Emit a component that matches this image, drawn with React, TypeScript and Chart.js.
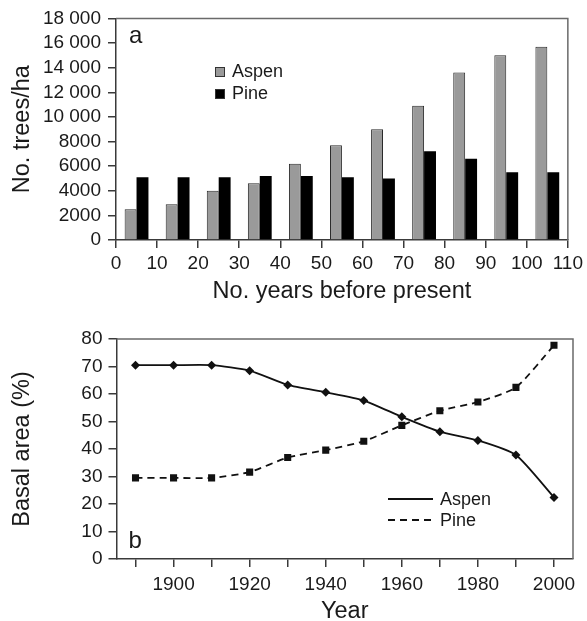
import React, { useEffect, useRef } from 'react';
import { Chart, registerables } from 'chart.js';

Chart.register(...registerables);

// ---- Panel a data ----
const yearsBeforePresent = [5, 15, 25, 35, 45, 55, 65, 75, 85, 95, 105];
const aspenTrees = [2500, 2900, 4000, 4600, 6200, 7700, 9000, 10900, 13600, 15000, 15700];
const pineTrees = [5100, 5100, 5100, 5200, 5200, 5100, 5000, 7200, 6600, 5500, 5500];
const xTicksA = [0, 10, 20, 30, 40, 50, 60, 70, 80, 90, 100, 110];
const yTicksA = [0, 2000, 4000, 6000, 8000, 10000, 12000, 14000, 16000, 18000];

// ---- Panel b data ----
const years = [1890, 1900, 1910, 1920, 1930, 1940, 1950, 1960, 1970, 1980, 1990, 2000];
const aspenBasal = [70.5, 70.5, 70.5, 68.5, 63.3, 60.6, 57.6, 51.7, 46.3, 43.1, 37.8, 22.4];
const pineBasal = [29.5, 29.5, 29.5, 31.6, 36.9, 39.6, 42.8, 48.6, 53.9, 57.1, 62.4, 77.7];
const xTicksB = [1890, 1900, 1910, 1920, 1930, 1940, 1950, 1960, 1970, 1980, 1990, 2000];
const xLabelsB = [1900, 1920, 1940, 1960, 1980, 2000];
const yTicksB = [0, 10, 20, 30, 40, 50, 60, 70, 80];

const FONT = "'Liberation Sans', Arial, Helvetica, sans-serif";
const TEXT = '#1a1a1a';
const AXIS = '#3a3a3a';
const TICK_SIZE = 19;

const framePlugin = {
  id: 'frame',
  afterDraw(chart: any) {
    const { ctx, chartArea } = chart;
    const { left, top, right, bottom } = chartArea;
    ctx.save();
    ctx.strokeStyle = '#6a6a6a';
    ctx.lineWidth = 1.5;
    ctx.beginPath();
    ctx.moveTo(left, top);
    ctx.lineTo(right, top);
    ctx.lineTo(right, bottom);
    ctx.stroke();
    ctx.restore();
  },
};

const panelLabelPlugin = {
  id: 'panelLabel',
  afterDraw(chart: any, _args: any, opts: any) {
    const { ctx, chartArea } = chart;
    ctx.save();
    ctx.fillStyle = TEXT;
    ctx.font = `24px ${FONT}`;
    ctx.textAlign = 'left';
    ctx.textBaseline = 'alphabetic';
    ctx.fillText(opts.text, chartArea.left + opts.dx, chartArea.top + opts.dy);
    ctx.restore();
  },
};

const boxLegendPlugin = {
  id: 'boxLegend',
  afterDraw(chart: any, _args: any, opts: any) {
    if (!opts || !opts.enabled) return;
    const { ctx } = chart;
    ctx.save();
    ctx.font = `18px ${FONT}`;
    ctx.textBaseline = 'alphabetic';
    ctx.textAlign = 'left';
    chart.data.datasets.forEach((ds: any, i: number) => {
      const y = opts.y + i * opts.gap;
      ctx.fillStyle = ds.backgroundColor;
      ctx.fillRect(opts.x, y - 10, 9, 9);
      ctx.strokeStyle = '#333';
      ctx.lineWidth = 1;
      ctx.strokeRect(opts.x + 0.5, y - 9.5, 9, 9);
      ctx.fillStyle = TEXT;
      ctx.fillText(ds.label, opts.x + 17, y);
    });
    ctx.restore();
  },
};

const lineLegendPlugin = {
  id: 'lineLegend',
  afterDraw(chart: any, _args: any, opts: any) {
    if (!opts || !opts.enabled) return;
    const { ctx } = chart;
    ctx.save();
    ctx.font = `18px ${FONT}`;
    ctx.textBaseline = 'alphabetic';
    ctx.textAlign = 'left';
    chart.data.datasets.forEach((ds: any, i: number) => {
      const y = opts.y + i * opts.gap;
      ctx.strokeStyle = ds.borderColor;
      ctx.lineWidth = 1.8;
      ctx.setLineDash(ds.borderDash || []);
      ctx.beginPath();
      ctx.moveTo(opts.x, y - 6);
      ctx.lineTo(opts.x + 45, y - 6);
      ctx.stroke();
      ctx.setLineDash([]);
      ctx.fillStyle = TEXT;
      ctx.fillText(ds.label, opts.x + 52, y);
    });
    ctx.restore();
  },
};

function fmtThousands(v: number): string {
  if (v >= 10000) {
    const th = Math.floor(v / 1000);
    const rest = String(v % 1000).padStart(3, '0');
    return `${th} ${rest}`;
  }
  return String(v);
}

export default function App() {
  const refA = useRef<HTMLCanvasElement>(null);
  const refB = useRef<HTMLCanvasElement>(null);

  useEffect(() => {
    Chart.defaults.font.family = FONT;
    Chart.defaults.color = TEXT;

    const chartA = new Chart(refA.current as HTMLCanvasElement, {
      type: 'bar',
      data: {
        datasets: [
          {
            label: 'Aspen',
            data: yearsBeforePresent.map((x, i) => ({ x, y: aspenTrees[i] })),
            backgroundColor: '#9a9a9a',
            borderColor: '#2a2a2a',
            borderWidth: 1,
            borderSkipped: 'bottom',
          },
          {
            label: 'Pine',
            data: yearsBeforePresent.map((x, i) => ({ x, y: pineTrees[i] })),
            backgroundColor: '#000000',
            borderColor: '#000000',
            borderWidth: 0,
          },
        ],
      },
      options: {
        responsive: false,
        animation: false,
        layout: { padding: { top: 18, right: 15, left: 0, bottom: 0 } },
        datasets: { bar: { barPercentage: 1, categoryPercentage: 0.58 } },
        plugins: {
          legend: { display: false },
          tooltip: { enabled: false },
          panelLabel: { text: 'a', dx: 13, dy: 25 },
          boxLegend: { enabled: true, x: 215, y: 77, gap: 22 },
        } as any,
        scales: {
          x: {
            type: 'linear',
            min: 0,
            max: 110,
            offset: false,
            afterBuildTicks: (scale: any) => {
              scale.ticks = xTicksA.map((v) => ({ value: v }));
            },
            afterFit: (scale: any) => {
              scale.height = 70;
            },
            grid: { display: true, drawOnChartArea: false, drawTicks: true, tickLength: 8, color: AXIS, lineWidth: 1.5, offset: false },
            border: { display: true, color: AXIS, width: 1.5 },
            ticks: { font: { size: TICK_SIZE }, padding: 4, maxRotation: 0, autoSkip: false, color: TEXT },
            title: {
              display: true,
              text: 'No. years before present',
              font: { size: 23.5, lineHeight: 1.2 },
              padding: { top: 0, bottom: 4 },
              color: TEXT,
            },
          },
          y: {
            type: 'linear',
            min: 0,
            max: 18000,
            afterBuildTicks: (scale: any) => {
              scale.ticks = yTicksA.map((v) => ({ value: v }));
            },
            afterFit: (scale: any) => {
              scale.width = 116;
            },
            grid: { display: true, drawOnChartArea: false, drawTicks: true, tickLength: 8, color: AXIS, lineWidth: 1.5 },
            border: { display: true, color: AXIS, width: 1.5 },
            ticks: { font: { size: TICK_SIZE }, padding: 7, color: TEXT, autoSkip: false, callback: (v: any) => fmtThousands(Number(v)) },
            title: {
              display: true,
              text: 'No. trees/ha',
              font: { size: 23.5, lineHeight: 1.2 },
              padding: { top: 8, bottom: 0 },
              color: TEXT,
            },
          },
        },
      },
      plugins: [framePlugin, panelLabelPlugin, boxLegendPlugin],
    } as any);

    const chartB = new Chart(refB.current as HTMLCanvasElement, {
      type: 'line',
      data: {
        datasets: [
          {
            label: 'Aspen',
            data: years.map((x, i) => ({ x, y: aspenBasal[i] })),
            borderColor: '#111111',
            backgroundColor: '#111111',
            borderWidth: 1.8,
            tension: 0.2,
            pointStyle: 'rectRot',
            pointRadius: 4.5,
            pointBackgroundColor: '#111111',
            pointBorderWidth: 0,
          },
          {
            label: 'Pine',
            data: years.map((x, i) => ({ x, y: pineBasal[i] })),
            borderColor: '#111111',
            backgroundColor: '#111111',
            borderWidth: 1.8,
            borderDash: [7, 5],
            tension: 0.2,
            pointStyle: 'rect',
            pointRadius: 5,
            pointBackgroundColor: '#111111',
            pointBorderWidth: 0,
          },
        ],
      },
      options: {
        responsive: false,
        animation: false,
        layout: { padding: { top: 29, right: 14, left: 0, bottom: 0 } },
        plugins: {
          legend: { display: false },
          tooltip: { enabled: false },
          panelLabel: { text: 'b', dx: 12, dy: 209 },
          lineLegend: { enabled: true, x: 388, y: 505 - 310, gap: 21 },
        } as any,
        scales: {
          x: {
            type: 'linear',
            min: 1885,
            max: 2005,
            afterBuildTicks: (scale: any) => {
              scale.ticks = xTicksB.map((v) => ({ value: v }));
            },
            afterFit: (scale: any) => {
              scale.height = 62;
            },
            grid: { display: true, drawOnChartArea: false, drawTicks: true, tickLength: 8, color: AXIS, lineWidth: 1.5 },
            border: { display: true, color: AXIS, width: 1.5 },
            ticks: {
              font: { size: TICK_SIZE },
              padding: 6,
              maxRotation: 0,
              autoSkip: false,
              color: TEXT,
              callback: (v: any) => (xLabelsB.includes(Number(v)) ? String(v) : ''),
            },
            title: {
              display: true,
              text: 'Year',
              font: { size: 23.5, lineHeight: 0.8 },
              padding: { top: 0, bottom: 0 },
              color: TEXT,
            },
          },
          y: {
            type: 'linear',
            min: 0,
            max: 80,
            afterBuildTicks: (scale: any) => {
              scale.ticks = yTicksB.map((v) => ({ value: v }));
            },
            afterFit: (scale: any) => {
              scale.width = 116.5;
            },
            grid: { display: true, drawOnChartArea: false, drawTicks: true, tickLength: 8, color: AXIS, lineWidth: 1.5 },
            border: { display: true, color: AXIS, width: 1.5 },
            ticks: { font: { size: TICK_SIZE }, padding: 6, color: TEXT, autoSkip: false },
            title: {
              display: true,
              text: 'Basal area (%)',
              font: { size: 23.5, lineHeight: 1.2 },
              padding: { top: 8, bottom: 0 },
              color: TEXT,
            },
          },
        },
      },
      plugins: [framePlugin, panelLabelPlugin, lineLegendPlugin],
    } as any);

    return () => {
      chartA.destroy();
      chartB.destroy();
    };
  }, []);

  return (
    <div style={{ position: 'absolute', left: 0, top: 0, width: 587, height: 621, background: '#fff' }}>
      <canvas ref={refA} width={587} height={310} style={{ position: 'absolute', left: 0, top: 0, width: 587, height: 310 }} />
      <canvas ref={refB} width={587} height={311} style={{ position: 'absolute', left: 0, top: 310, width: 587, height: 311 }} />
    </div>
  );
}
